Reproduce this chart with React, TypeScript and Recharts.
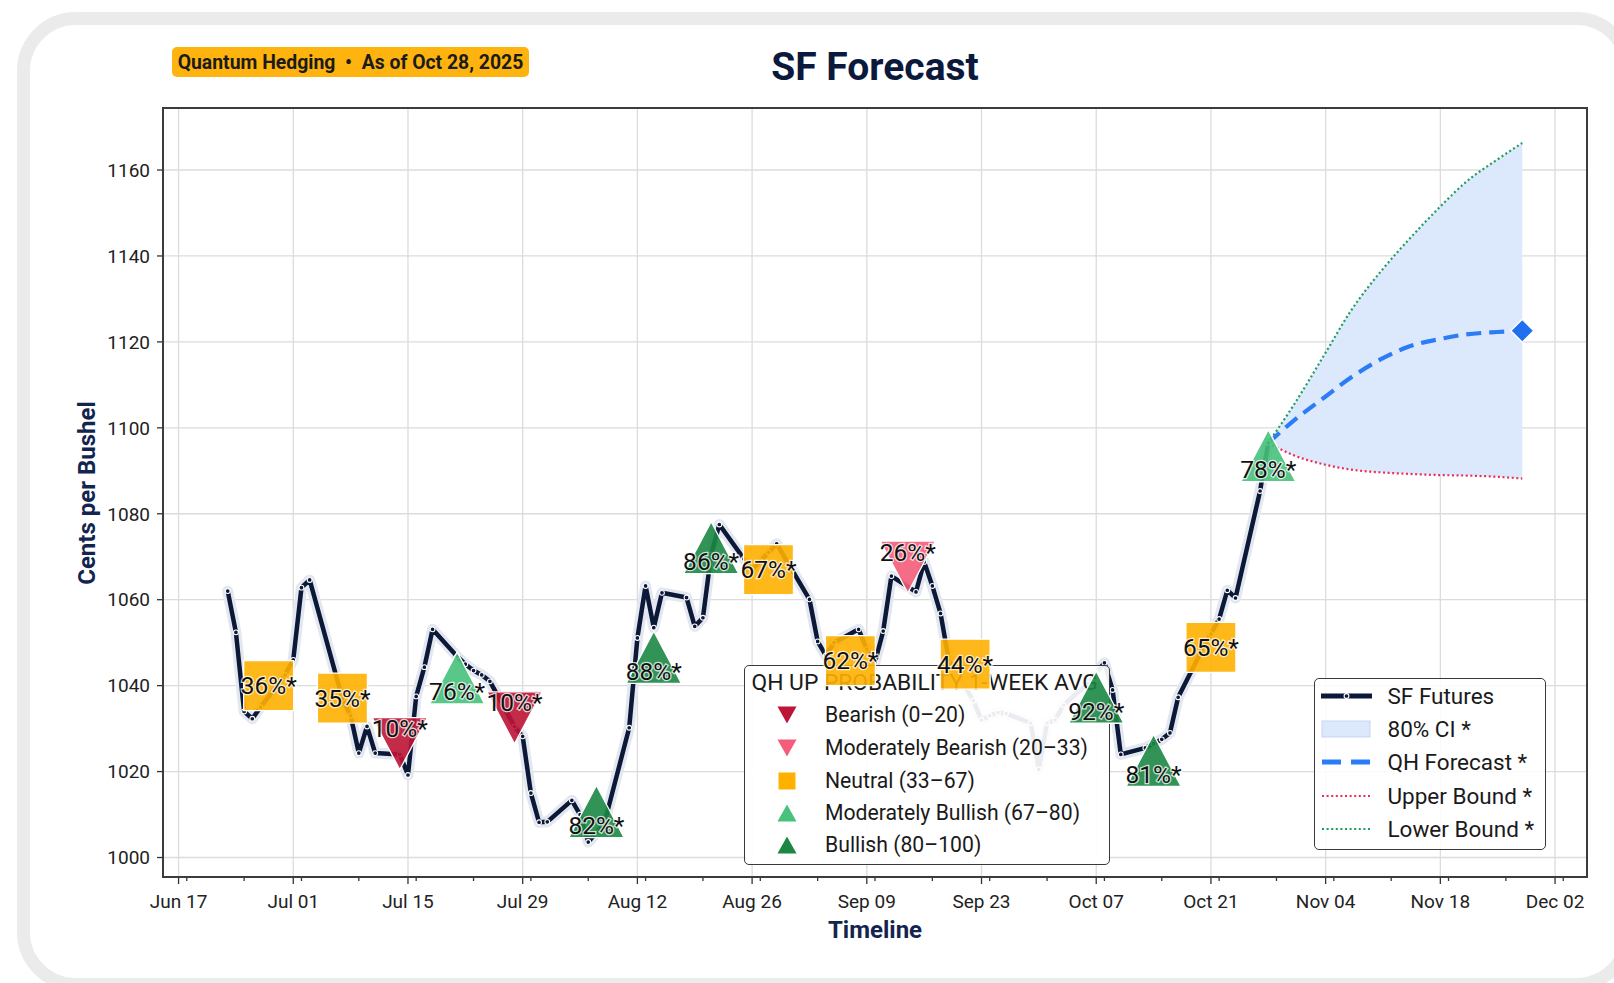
import React from 'react';
import { ComposedChart, Line, Area, Scatter, XAxis, YAxis, CartesianGrid } from 'recharts';

const W = 1614;
const H = 983;
const PLOT = { left: 163, top: 108, right: 1587, bottom: 877 };

const NAVY = '#0c1838';
const BLUE = '#2b7cf6';
const RED = '#ec2d58';
const GREEN = '#1c9f5e';
const FONT = 'Roboto, "Noto Sans", sans-serif';

// SF futures daily closes (2025, MM-DD)
const FUT_DATES = [
  '06-23', '06-24', '06-25', '06-26', '06-27', '06-30', '07-01', '07-02', '07-03',
  '07-07', '07-08', '07-09', '07-10', '07-11', '07-14', '07-15', '07-16', '07-17', '07-18',
  '07-21', '07-22', '07-23', '07-24', '07-25', '07-28', '07-29', '07-30', '07-31', '08-01',
  '08-04', '08-05', '08-06', '08-07', '08-08', '08-11', '08-12', '08-13', '08-14', '08-15',
  '08-18', '08-19', '08-20', '08-21', '08-22', '08-25', '08-26', '08-27', '08-28', '08-29',
  '09-02', '09-03', '09-04', '09-05', '09-08', '09-09', '09-10', '09-11', '09-12',
  '09-15', '09-16', '09-17', '09-18', '09-19', '09-22', '09-23', '09-24', '09-25', '09-26',
  '09-29', '09-30', '10-01', '10-02', '10-03', '10-06', '10-07', '10-08', '10-09', '10-10',
  '10-13', '10-14', '10-15', '10-16', '10-17', '10-20', '10-21', '10-22', '10-23', '10-24',
  '10-27', '10-28',
];
const FUT_PRICES = [
  1062.0, 1052.4, 1034.0, 1032.3, 1035.0, 1042.5, 1046.0, 1062.8, 1064.6,
  1037.0, 1033.0, 1024.3, 1030.5, 1024.3, 1024.0, 1019.2, 1037.5, 1044.3, 1053.1,
  1046.8, 1045.0, 1043.5, 1042.5, 1041.0, 1030.5, 1028.2, 1015.0, 1008.2, 1008.3,
  1013.3, 1010.0, 1003.6, 1005.8, 1008.2, 1030.2, 1051.1, 1063.2, 1053.5, 1061.6,
  1060.5, 1053.8, 1055.8, 1070.5, 1077.5, 1069.5, 1067.0, 1069.0, 1071.0, 1073.0,
  1060.1, 1050.3, 1047.0, 1050.0, 1053.1, 1048.5, 1045.5, 1052.7, 1065.5,
  1061.8, 1068.8, 1063.2, 1056.8, 1046.0, 1036.5, 1032.0, 1033.0, 1033.7, 1033.5,
  1031.3, 1020.5, 1031.3, 1032.0, 1035.5, 1040.5, 1043.0, 1045.3, 1039.0, 1024.0,
  1025.5, 1026.5, 1027.5, 1029.0, 1037.3, 1048.6, 1052.0, 1055.5, 1062.2, 1060.4,
  1085.3, 1096.5,
];

// QH up-probability (1-week avg) signals
const SIGNAL_DATES = [
  '06-28', '07-07', '07-14', '07-21', '07-28', '08-07', '08-14', '08-21',
  '08-28', '09-07', '09-14', '09-21', '10-07', '10-14', '10-21', '10-28',
];
const SIGNAL_PRICES = [
  1040.0, 1037.1, 1026.5, 1041.8, 1032.5, 1010.7, 1046.6, 1072.1,
  1067.0, 1045.8, 1067.6, 1045.0, 1037.3, 1022.6, 1048.9, 1093.5,
];
const SIGNAL_PROBS = [36, 35, 10, 76, 10, 82, 88, 86, 67, 62, 26, 44, 92, 81, 65, 78];

// QH forecast
const FC_DATES = ['10-28', '10-31', '11-04', '11-07', '11-11', '11-14', '11-18', '11-21', '11-25', '11-28'];
const FC_MEAN = [1096.5, 1101.5, 1107.3, 1111.6, 1116.2, 1118.8, 1120.7, 1121.7, 1122.3, 1122.6];
const FC_UPPER = [1096.5, 1093.7, 1091.4, 1090.3, 1089.6, 1089.3, 1089.0, 1088.9, 1088.6, 1088.2];
const FC_LOWER = [1096.5, 1105.0, 1117.5, 1127.0, 1137.0, 1143.5, 1151.5, 1157.0, 1162.5, 1166.3];

const MAJOR_TICKS = ['06-17', '07-01', '07-15', '07-29', '08-12', '08-26', '09-09', '09-23', '10-07', '10-21', '11-04', '11-18', '12-02'];
const MINOR_TICKS = [
  '06-18', '06-25', '07-02', '07-09', '07-16', '07-23', '07-30', '08-06', '08-13', '08-20', '08-27',
  '09-03', '09-10', '09-17', '09-24', '10-01', '10-08', '10-15', '10-22', '10-29', '11-05', '11-12',
  '11-19', '11-26', '12-03',
];
const Y_TICKS = [1000, 1020, 1040, 1060, 1080, 1100, 1120, 1140, 1160];

const CATEGORIES = [
  { name: 'Bearish (0–20)', max: 20, color: '#bd1535', shape: 'down' },
  { name: 'Moderately Bearish (20–33)', max: 33, color: '#f45c79', shape: 'down' },
  { name: 'Neutral (33–67)', max: 67.5, color: '#ffb000', shape: 'square' },
  { name: 'Moderately Bullish (67–80)', max: 80, color: '#47c17b', shape: 'up' },
  { name: 'Bullish (80–100)', max: 101, color: '#1b8742', shape: 'up' },
];

const MONTHS = ['Jan', 'Feb', 'Mar', 'Apr', 'May', 'Jun', 'Jul', 'Aug', 'Sep', 'Oct', 'Nov', 'Dec'];
const ts = (md: string) => Date.UTC(2025, Number(md.slice(0, 2)) - 1, Number(md.slice(3)));
const fmtTick = (t: number) => {
  const d = new Date(t);
  return `${MONTHS[d.getUTCMonth()]} ${String(d.getUTCDate()).padStart(2, '0')}`;
};
const categoryOf = (p: number) => CATEGORIES.find((c) => p < c.max) || CATEGORIES[4];

const futRows = FUT_DATES.map((md, i) => ({ t: ts(md), v: FUT_PRICES[i] }));
const signalRows = SIGNAL_DATES.map((md, i) => ({ t: ts(md), v: SIGNAL_PRICES[i], p: SIGNAL_PROBS[i] }));
const fcRows = FC_DATES.map((md, i) => ({
  t: ts(md),
  v: FC_MEAN[i],
  upper: FC_UPPER[i],
  lower: FC_LOWER[i],
  band: [FC_UPPER[i], FC_LOWER[i]],
}));
const fcEnd = [fcRows[fcRows.length - 1]];

// matplotlib-like 5% margins
const xLo = futRows[0].t;
const xHi = fcRows[fcRows.length - 1].t;
const X_DOMAIN = [xLo - (xHi - xLo) * 0.05, xHi + (xHi - xLo) * 0.05];
const allY = [...FUT_PRICES, ...FC_UPPER, ...FC_LOWER];
const yLo = Math.min(...allY);
const yHi = Math.max(...allY);
const Y_DOMAIN = [yLo - (yHi - yLo) * 0.05, yHi + (yHi - yLo) * 0.05];

const majorTs = MAJOR_TICKS.map(ts);
const majorSet = new Set(majorTs);
const allXTicks = [...majorTs, ...MINOR_TICKS.map(ts)].sort((a, b) => a - b);

const XTick = ({ x, y, payload }: any) => {
  const major = majorSet.has(payload.value);
  return (
    <g>
      <line x1={x} x2={x} y1={y} y2={y + (major ? 7 : 4)} stroke="#333" strokeWidth={1.3} />
      {major && (
        <text x={x} y={y + 31} textAnchor="middle" fontSize={19} fontFamily={FONT} fill="#222">
          {fmtTick(payload.value)}
        </text>
      )}
    </g>
  );
};

const markPath = (shape: string, cx: number, cy: number, w: number, h: number) => {
  if (shape === 'up') return `M${cx},${cy - h / 2} L${cx + w / 2},${cy + h / 2} L${cx - w / 2},${cy + h / 2} Z`;
  if (shape === 'down') return `M${cx - w / 2},${cy - h / 2} L${cx + w / 2},${cy - h / 2} L${cx},${cy + h / 2} Z`;
  return `M${cx - w / 2},${cy - h / 2} h${w} v${h} h${-w} Z`;
};

const SignalMark = (props: any) => {
  const { cx, cy, payload } = props;
  if (cx == null || cy == null) return <g />;
  const cat = categoryOf(payload.p);
  const isSq = cat.shape === 'square';
  const w = isSq ? 50 : 55;
  const h = isSq ? 50 : 52;
  const ty = cat.shape === 'up' ? cy + 14 : cat.shape === 'down' ? cy - 15 : cy;
  return (
    <g>
      <path d={markPath(cat.shape, cx, cy, w, h)} fill={cat.color} fillOpacity={0.9} stroke="#fff" strokeWidth={1.3} strokeLinejoin="miter" />
      <text
        x={cx}
        y={ty}
        textAnchor="middle"
        dominantBaseline="central"
        fontSize={24.5}
        fontFamily={FONT}
        fill="#111"
        stroke="#fff"
        strokeWidth={2.6}
        strokeOpacity={0.75}
        paintOrder="stroke"
      >
        {`${payload.p}%*`}
      </text>
    </g>
  );
};

const Diamond = (props: any) => {
  const { cx, cy } = props;
  if (cx == null || cy == null) return <g />;
  const r = 11.5;
  return <path d={`M${cx},${cy - r} L${cx + r},${cy} L${cx},${cy + r} L${cx - r},${cy} Z`} fill="#1f6ff0" stroke="#fff" strokeWidth={1.5} />;
};

const FutDot = (props: any) => {
  const { cx, cy, index } = props;
  if (cx == null || cy == null) return <g key={index} />;
  return <circle key={index} cx={cx} cy={cy} r={2.4} fill={NAVY} stroke="#fff" strokeWidth={1.1} />;
};

const abs = (extra: React.CSSProperties): React.CSSProperties => ({ position: 'absolute', ...extra });

const LEFT_LEGEND_ROWS = [715, 748, 781, 813, 845];
const RIGHT_LEGEND = [
  { label: 'SF Futures', y: 696 },
  { label: '80% CI *', y: 729 },
  { label: 'QH Forecast *', y: 762 },
  { label: 'Upper Bound *', y: 795.5 },
  { label: 'Lower Bound *', y: 828.5 },
];

const RightHandle = ({ i }: { i: number }) => {
  if (i === 0)
    return (
      <g>
        <line x1={2} x2={53} y1={10} y2={10} stroke={NAVY} strokeWidth={5} />
        <circle cx={27.5} cy={10} r={2.4} fill={NAVY} stroke="#fff" strokeWidth={1.1} />
      </g>
    );
  if (i === 1) return <rect x={3} y={2} width={48} height={16} fill="#dce8fb" stroke="#c3d7f5" strokeWidth={1} />;
  if (i === 2) return <line x1={3} x2={51} y1={10} y2={10} stroke={BLUE} strokeWidth={5} strokeDasharray="19 10" />;
  return <line x1={3} x2={51} y1={10} y2={10} stroke={i === 3 ? RED : GREEN} strokeWidth={2.2} strokeDasharray="2 2.6" />;
};

export default function App() {
  const plotW = PLOT.right - PLOT.left;
  return (
    <div style={abs({ left: 0, top: 0, width: W, height: H, overflow: 'hidden', background: '#fff', fontFamily: FONT })}>
      {/* card */}
      <div
        style={abs({
          left: 17, top: 12, width: 1618, height: 979, boxSizing: 'border-box',
          border: '13px solid #ebebeb', borderRadius: 59, background: '#fff',
        })}
      />

      {/* badge + title */}
      <div
        style={abs({
          left: 172, top: 47, width: 357, height: 30, background: '#ffb30f', borderRadius: 5,
          display: 'flex', alignItems: 'center', justifyContent: 'center', fontSize: 19.4, fontWeight: 700,
          color: '#1b1b1b', whiteSpace: 'pre',
        })}
      >
        {'Quantum Hedging  •  As of Oct 28, 2025'}
      </div>
      <div
        style={abs({
          left: PLOT.left, width: plotW, top: 44, lineHeight: '46px', textAlign: 'center',
          fontSize: 39, fontWeight: 700, color: '#0b1a3c',
        })}
      >
        SF Forecast
      </div>

      {/* main chart */}
      <div style={abs({ left: 0, top: 0 })}>
        <ComposedChart width={W} height={H} margin={{ top: PLOT.top, right: W - PLOT.right, bottom: 66, left: 63 }}>
          <CartesianGrid
            stroke="#dcdcdc"
            strokeWidth={1.3}
            verticalCoordinatesGenerator={(gp: any) => {
              const sc = gp?.xAxis?.scale;
              if (typeof sc === 'function') return majorTs.map((t) => sc(t));
              const o = gp.offset;
              return majorTs.map((t) => o.left + ((t - X_DOMAIN[0]) / (X_DOMAIN[1] - X_DOMAIN[0])) * o.width);
            }}
          />
          <XAxis
            type="number"
            dataKey="t"
            domain={X_DOMAIN}
            ticks={allXTicks}
            interval={0}
            tick={<XTick />}
            tickLine={false}
            axisLine={false}
            tickSize={0}
            tickMargin={0}
            height={40}
            allowDataOverflow
          />
          <YAxis
            type="number"
            dataKey="v"
            domain={Y_DOMAIN}
            ticks={Y_TICKS}
            interval={0}
            width={100}
            axisLine={false}
            tickSize={6}
            tickMargin={7}
            tickLine={{ stroke: '#333', strokeWidth: 1.3 }}
            tick={{ fontSize: 19, fill: '#222', fontFamily: FONT }}
            allowDataOverflow
          />
          <Area
            data={fcRows}
            dataKey="band"
            type="monotone"
            fill="#dce8fb"
            fillOpacity={1}
            stroke="none"
            isAnimationActive={false}
          />
          <Line data={futRows} dataKey="v" stroke="#e3e7ef" strokeWidth={11} dot={false} strokeLinejoin="round" strokeLinecap="round" isAnimationActive={false} />
          <Line data={futRows} dataKey="v" stroke={NAVY} strokeWidth={4.5} dot={<FutDot />} strokeLinejoin="round" isAnimationActive={false} />
          <Line data={fcRows} dataKey="lower" type="monotone" stroke={GREEN} strokeWidth={2.2} strokeDasharray="2 2.6" dot={false} isAnimationActive={false} />
          <Line data={fcRows} dataKey="upper" type="monotone" stroke={RED} strokeWidth={2.2} strokeDasharray="2 2.6" dot={false} isAnimationActive={false} />
          <Line data={fcRows} dataKey="v" type="monotone" stroke={BLUE} strokeWidth={4.2} strokeDasharray="15 8" dot={false} isAnimationActive={false} />
          <Scatter data={fcEnd} dataKey="v" shape={<Diamond />} isAnimationActive={false} />
        </ComposedChart>
      </div>

      {/* plot frame */}
      <div
        style={abs({
          left: PLOT.left - 1, top: PLOT.top - 1, width: plotW + 2, height: PLOT.bottom - PLOT.top + 2,
          boxSizing: 'border-box', border: '2px solid #3c3c3c', pointerEvents: 'none',
        })}
      />

      {/* axis titles */}
      <div style={abs({ left: 675, width: 400, top: 915, lineHeight: '30px', textAlign: 'center', fontSize: 24, fontWeight: 700, color: '#13254f' })}>
        Timeline
      </div>
      <div
        style={abs({
          left: 86.5 - 150, top: 492.5 - 15, width: 300, height: 30, lineHeight: '30px', textAlign: 'center',
          fontSize: 24, fontWeight: 700, color: '#13254f', transform: 'rotate(-90deg)',
        })}
      >
        Cents per Bushel
      </div>

      {/* signal legend */}
      <div
        style={abs({
          left: 743.5, top: 664.5, width: 366.5, height: 200, boxSizing: 'border-box',
          border: '1.5px solid #3a3a3a', borderRadius: 5, background: 'rgba(255,255,255,0.92)',
        })}
      />
      <div style={abs({ left: 751.5, top: 683.3 - 14, lineHeight: '28px', fontSize: 22.8, color: '#1a1a1a', whiteSpace: 'pre' })}>
        QH UP PROBABILITY 1-WEEK AVG
      </div>
      {CATEGORIES.map((c, i) => (
        <React.Fragment key={c.name}>
          <svg style={abs({ left: 786.6 - 12, top: LEFT_LEGEND_ROWS[i] - 12 })} width={24} height={24}>
            <path d={markPath(c.shape, 12, 12, c.shape === 'square' ? 17 : 19, 17)} fill={c.color} />
          </svg>
          <div style={abs({ left: 825, top: LEFT_LEGEND_ROWS[i] - 14, lineHeight: '28px', fontSize: 21.2, color: '#1a1a1a', whiteSpace: 'pre' })}>
            {c.name}
          </div>
        </React.Fragment>
      ))}

      {/* series legend */}
      <div
        style={abs({
          left: 1314, top: 677.5, width: 232, height: 172, boxSizing: 'border-box',
          border: '1.5px solid #3a3a3a', borderRadius: 5, background: 'rgba(255,255,255,0.86)',
        })}
      />
      {RIGHT_LEGEND.map((r, i) => (
        <React.Fragment key={r.label}>
          <svg style={abs({ left: 1319, top: r.y - 10 })} width={56} height={20}>
            <RightHandle i={i} />
          </svg>
          <div style={abs({ left: 1387.5, top: r.y - 14, lineHeight: '28px', fontSize: 22.5, color: '#1a1a1a', whiteSpace: 'pre' })}>
            {r.label}
          </div>
        </React.Fragment>
      ))}

      {/* signal markers drawn above the legend */}
      <div style={abs({ left: 0, top: 0, pointerEvents: 'none' })}>
        <ComposedChart width={W} height={H} margin={{ top: PLOT.top, right: W - PLOT.right, bottom: H - PLOT.bottom, left: PLOT.left }}>
          <XAxis type="number" dataKey="t" domain={X_DOMAIN} hide allowDataOverflow />
          <YAxis type="number" dataKey="v" domain={Y_DOMAIN} hide allowDataOverflow />
          <Scatter data={signalRows} dataKey="v" shape={<SignalMark />} isAnimationActive={false} />
        </ComposedChart>
      </div>
    </div>
  );
}
